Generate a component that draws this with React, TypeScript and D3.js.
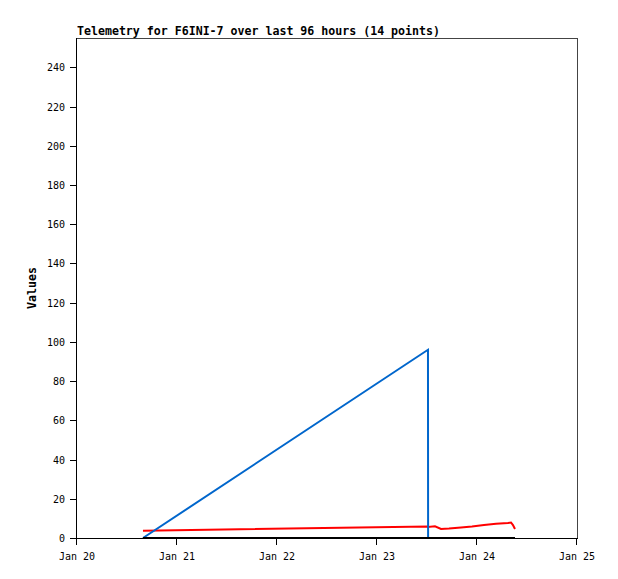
import React from "react";
import * as d3 from "d3";

const times: string[] = [
  "2024-01-20T15:50", "2024-01-23T12:14", "2024-01-23T12:16", "2024-01-23T13:55",
  "2024-01-23T15:22", "2024-01-23T17:17", "2024-01-23T20:10", "2024-01-23T22:48",
  "2024-01-24T01:41", "2024-01-24T04:34", "2024-01-24T07:26", "2024-01-24T08:10",
  "2024-01-24T08:38", "2024-01-24T09:07",
];
const blueValues: number[] = [0, 96, 0, 0, 0, 0, 0, 0, 0, 0, 0, 0, 0, 0];
const redValues: number[] = [3.7, 5.9, 5.6, 6.0, 4.6, 4.8, 5.4, 5.9, 6.6, 7.3, 7.6, 7.9, 6.6, 4.6];
const blackValues: number[] = [0, 0, 0, 0, 0, 0, 0, 0, 0, 0, 0, 0, 0, 0];
const yTicks: number[] = [0, 20, 40, 60, 80, 100, 120, 140, 160, 180, 200, 220, 240];
const xDomain: string[] = ["2024-01-20T00:00", "2024-01-25T00:00"];
const title = "Telemetry for F6INI-7 over last 96 hours (14 points)";
const yLabel = "Values";

const W = 618, H = 579;
const L = 77, R = 577, T = 38, B = 538;
const FONT = "'DejaVu Sans Mono', monospace";

export default function App() {
  const dates = times.map((t) => new Date(t));
  const x = d3.scaleTime().domain(xDomain.map((d) => new Date(d))).range([L, R]);
  const y = d3.scaleLinear().domain([0, 255]).range([B, T]);
  const xTicks = x.ticks(d3.timeDay.every(1)!);
  const fmt = d3.timeFormat("%b %d");
  const mk = (vals: number[]) =>
    d3.line<number>().x((_, i) => x(dates[i])).y((v) => y(v))(vals) || "";

  return (
    <svg width={W} height={H} style={{ position: "absolute", left: 0, top: 0, background: "#fff" }}>
      <rect x={0} y={0} width={W} height={H} fill="#fff" />
      <text x={L} y={35} fontFamily={FONT} fontWeight="bold" fontSize={11.6} fill="#000">{title}</text>
      <path d={`M${L},${T + 0.5}H${R + 0.5}V${B}`} fill="none" stroke="#444" strokeWidth={1} shapeRendering="crispEdges" />
      <line x1={L - 0.5} x2={L - 0.5} y1={T} y2={B + 7} stroke="#000" strokeWidth={1} shapeRendering="crispEdges" />
      {yTicks.map((v) => (
        <g key={v}>
          <line x1={L - 7} x2={L} y1={Math.round(y(v)) + 0.5} y2={Math.round(y(v)) + 0.5} stroke="#000" shapeRendering="crispEdges" />
          <text x={65} y={y(v) + 4} textAnchor="end" fontFamily={FONT} fontSize={10} fill="#000">{v}</text>
        </g>
      ))}
      <line x1={L - 7} x2={R + 1} y1={B + 0.5} y2={B + 0.5} stroke="#000" strokeWidth={1} shapeRendering="crispEdges" />
      {xTicks.map((d) => (
        <g key={+d}>
          <line x1={Math.round(x(d)) - 0.5} x2={Math.round(x(d)) - 0.5} y1={B} y2={B + 7} stroke="#000" shapeRendering="crispEdges" />
          <text x={x(d)} y={560} textAnchor="middle" fontFamily={FONT} fontSize={10} fill="#000">{fmt(d)}</text>
        </g>
      ))}
      <text transform={`translate(36,288) rotate(-90)`} textAnchor="middle" fontFamily={FONT} fontWeight="bold" fontSize={11.6} fill="#000">{yLabel}</text>
      <path d={mk(redValues)} fill="none" stroke="#ff0000" strokeWidth={2} />
      <path d={mk(blueValues)} fill="none" stroke="#0066cc" strokeWidth={2} />
      <path d={mk(blackValues)} fill="none" stroke="#000" strokeWidth={2} />
    </svg>
  );
}
